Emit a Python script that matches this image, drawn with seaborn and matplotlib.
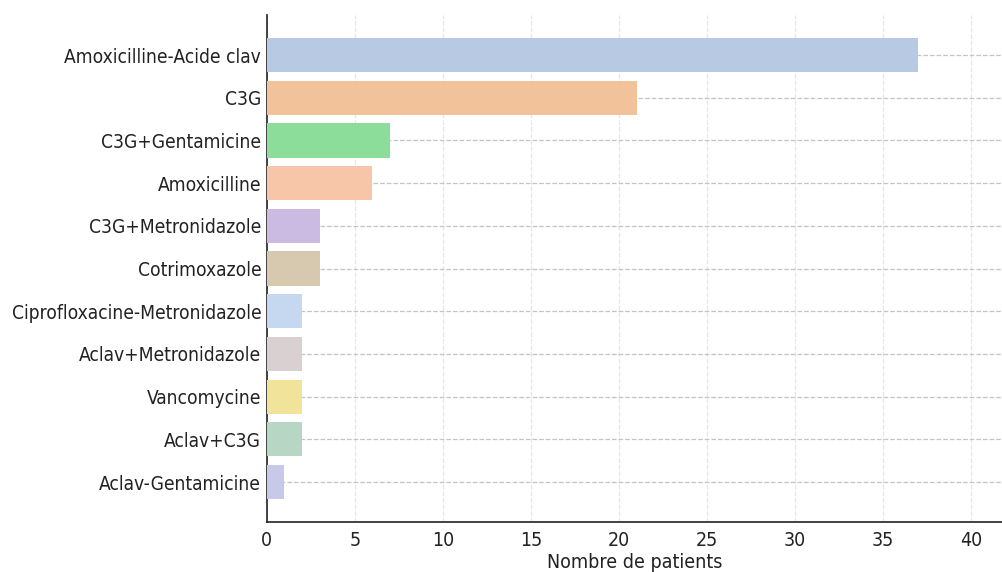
import matplotlib
matplotlib.use("Agg")
import matplotlib.pyplot as plt
import seaborn as sns
import pandas as pd

# Antibiotic regimens and number of patients treated with each
traitements = [
    "Amoxicilline-Acide clav",
    "C3G",
    "C3G+Gentamicine",
    "Amoxicilline",
    "C3G+Metronidazole",
    "Cotrimoxazole",
    "Ciprofloxacine-Metronidazole",
    "Aclav+Metronidazole",
    "Vancomycine",
    "Aclav+C3G",
    "Aclav-Gentamicine",
]
patients = [37, 21, 7, 6, 3, 3, 2, 2, 2, 2, 1]
couleurs = [
    "#B8C9E3", "#F2C39A", "#8CDC9A", "#F7C6A9", "#CBBBE3", "#D7C8B0",
    "#C5D8EF", "#D9D1D1", "#F2E39A", "#B8D6C4", "#C8C8E8",
]
xticks = [0, 5, 10, 15, 20, 25, 30, 35, 40]

sns.set_theme(style="white")
plt.rcParams["font.family"] = ["DejaVu Sans"]
plt.rcParams["font.stretch"] = "condensed"

df = pd.DataFrame({"traitement": traitements, "patients": patients})

fig = plt.figure(figsize=(10.03, 5.72), dpi=100)
ax = fig.add_axes([0.266, 0.087, 0.734, 0.887])

sns.barplot(data=df, y="traitement", x="patients", hue="traitement",
            palette=couleurs, orient="h", width=0.8, saturation=1,
            linewidth=0, legend=False, ax=ax, zorder=3)

ax.set_ylim(10.94, -0.94)
ax.set_xlim(0, 41.8)
ax.set_xticks(xticks)
ax.set_xlabel("Nombre de patients", fontsize=14, labelpad=2)
ax.set_ylabel("")

ax.tick_params(axis="x", labelsize=14, length=5, width=1, color="#222222", pad=1.5)
ax.tick_params(axis="y", labelsize=13.8, length=0, pad=4)
for lbl in ax.get_xticklabels() + ax.get_yticklabels():
    lbl.set_color("#222222")
ax.xaxis.label.set_color("#222222")

ax.grid(axis="x", linestyle="--", color="#e6e6e6", linewidth=0.9, zorder=0)
ax.grid(axis="y", linestyle="--", color="#c4c4c4", linewidth=0.9, zorder=0)
ax.set_axisbelow(True)

for side in ["top", "right"]:
    ax.spines[side].set_visible(False)
for side in ["left", "bottom"]:
    ax.spines[side].set_color("#222222")
    ax.spines[side].set_linewidth(1.2)

fig.savefig("out.png", dpi=100)
